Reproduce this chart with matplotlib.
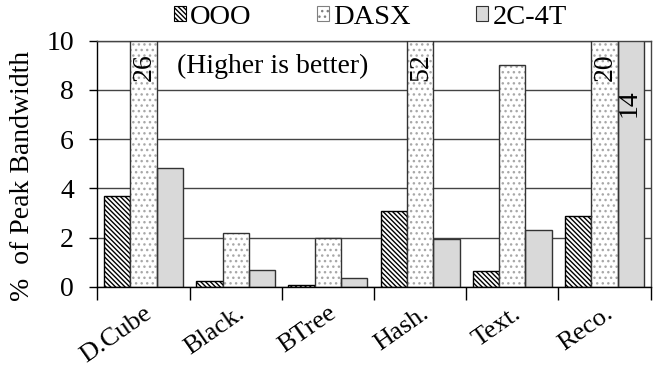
import numpy as np
import matplotlib
matplotlib.use('Agg')
import matplotlib.pyplot as plt
from matplotlib.patches import Patch

plt.rcParams['font.family'] = ['Liberation Serif', 'DejaVu Serif']
plt.rcParams['hatch.linewidth'] = 1.0

# data
categories = ['D.Cube', 'Black.', 'BTree', 'Hash.', 'Text.', 'Reco.']
ooo = [3.7, 0.25, 0.1, 3.1, 0.65, 2.9]
dasx = [26, 2.2, 2.0, 52, 9.0, 20]
c2t4 = [4.85, 0.7, 0.35, 1.95, 2.3, 14]
series_names = ['OOO', 'DASX', '2C-4T']
ymax = 10

fig = plt.figure(figsize=(6.67, 3.73), dpi=100)
ax = fig.add_axes([0.146, 0.2306, 0.8295, 0.6604])

x = np.arange(len(categories))
w = 0.285
gray = '#d9d9d9'

# OOO: diagonal hatch
ax.bar(x - w, ooo, w, color='white', edgecolor='black', hatch='\\' * 7, linewidth=1.0, zorder=2)
# DASX: light dotted fill, outline drawn separately
ax.bar(x, dasx, w, color='white', edgecolor='#a8a8a8', hatch='...', linewidth=0, zorder=2)
ax.bar(x, dasx, w, color='none', edgecolor='#333333', linewidth=1.0, zorder=3)
# 2C-4T: plain gray
ax.bar(x + w, c2t4, w, color=gray, edgecolor='#333333', linewidth=1.0, zorder=2)

# values of bars that run off the top
for xi, v in zip(x, dasx):
    if v > ymax:
        ax.text(xi + 0.01, 9.5, str(v), rotation=90, ha='center', va='top',
                fontsize=20, zorder=5)
for xi, v in zip(x, c2t4):
    if v > ymax:
        ax.text(xi + w - 0.02, 7.45, str(v), rotation=90, ha='center', va='center',
                fontsize=20, zorder=5)

ax.text(1.40, 8.94, '(Higher is better)', ha='center', va='center', fontsize=20, zorder=5)

ax.set_xlim(-0.5, len(categories) - 0.5)
ax.set_ylim(0, ymax)
ax.set_yticks([0, 2, 4, 6, 8, 10])
ax.tick_params(axis='y', labelsize=20, direction='out', length=6, width=1, pad=11)
ax.yaxis.grid(True, color='#444444', linewidth=1.0)
ax.set_axisbelow(True)

ax.set_xticks(x)
ax.set_xticklabels(categories, rotation=35, ha='right', rotation_mode='anchor', fontsize=19)
ax.set_xticks(np.arange(-0.5, len(categories)), minor=True)
ax.tick_params(axis='x', which='major', length=0, pad=11)
ax.tick_params(axis='x', which='minor', length=9, width=1, direction='out')

for s in ['left', 'bottom']:
    ax.spines[s].set_linewidth(1.0)
for s in ['top', 'right']:
    ax.spines[s].set_linewidth(1.0)
    ax.spines[s].set_color('#444444')

fig.text(0.034, 1 - 176 / 373, '%  of Peak Bandwidth', rotation=90, ha='center', va='center', fontsize=20)

handles = [
    Patch(facecolor='white', edgecolor='black', hatch='\\' * 7, linewidth=0.8),
    Patch(facecolor='white', edgecolor='#808080', hatch='...', linewidth=0.8),
    Patch(facecolor=gray, edgecolor='#333333', linewidth=0.8),
]
fig.legend(handles, series_names, loc='center', bbox_to_anchor=(0.555, 1 - 17 / 373), ncol=3,
           frameon=False, fontsize=20.5, handlelength=0.42, handleheight=0.42,
           handletextpad=0.15, columnspacing=2.3, borderaxespad=0)

fig.savefig('out.png', dpi=100)
